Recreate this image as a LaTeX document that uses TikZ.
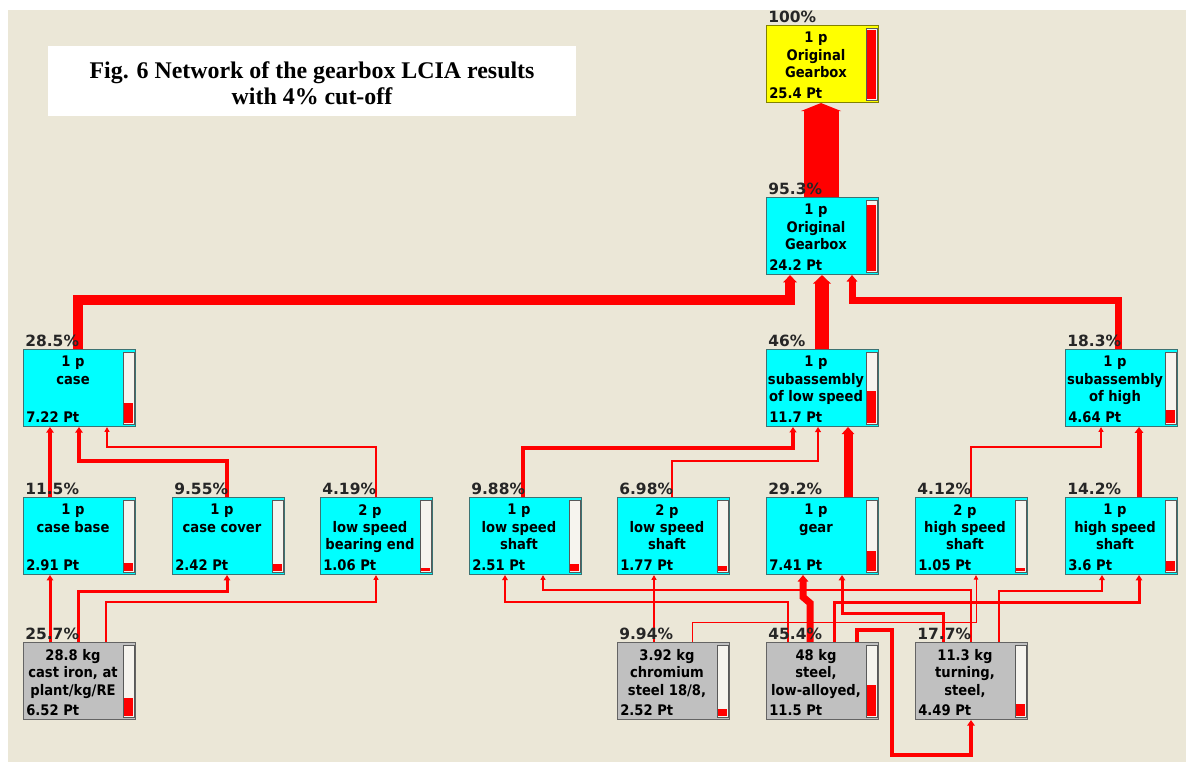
\documentclass[tikz,border=0pt]{standalone}
\usepackage{fontspec}
\usepackage{tikz}
\usetikzlibrary{arrows.meta}
\usetikzlibrary{calc}

\newfontfamily\boxfont{DejaVu Sans Condensed}[BoldFont={DejaVu Sans Condensed Bold}]
\newfontfamily\pctfont{DejaVu Sans}
\newfontfamily\titlefont{Liberation Serif}

\definecolor{bgbeige}{RGB}{235,231,215}
\definecolor{boxcyan}{RGB}{0,255,255}
\definecolor{boxgray}{RGB}{192,192,192}
\definecolor{boxyellow}{RGB}{255,255,0}
\definecolor{edgecyan}{RGB}{60,115,115}
\definecolor{edgegray}{RGB}{100,100,100}
\definecolor{edgeyellow}{RGB}{130,130,0}
\definecolor{barwhite}{RGB}{246,244,238}

\pgfdeclarelayer{bg}
\pgfdeclarelayer{edges}
\pgfsetlayers{bg,edges,main}

% name, x, y, fill, border, percent, text, score
\newcommand{\lcianode}[8]{%
  \node[lciabox, fill=#4, draw=#5] (#1) at (#2,#3) {};
  \draw[gray!70!black, fill=barwhite, line width=0.5pt] ($(#1.north east)+(-13,3)$) rectangle ($(#1.south east)+(-2,-3)$);
  \fill[red] ($(#1.south east)+(-12,-4)$) rectangle ($(#1.south east)+(-3,{-4-0.69*#6})$);
  \node[pctlabel] at ($(#1.north west)+(2,-3)$) {#6\%};
  \node[boxlines] at ($(#1.north west)+(50,7)$) {#7};
  \node[scorelabel] at ($(#1.south west)+(3,-5)$) {#8 Pt};
}

\begin{document}
\begin{tikzpicture}[x=0.02cm, y=-0.02cm,
  lciabox/.style={rectangle, anchor=north west, minimum width=2.24cm, minimum height=1.54cm, inner sep=0pt, line width=0.6pt},
  pctlabel/.style={anchor=base west, inner sep=0pt, text=black!85, font=\pctfont\bfseries\fontsize{8.8}{10}\selectfont},
  boxlines/.style={anchor=north, align=center, inner sep=0pt, font=\boxfont\bfseries\fontsize{8.3}{9.9}\selectfont},
  scorelabel/.style={anchor=base west, inner sep=0pt, font=\boxfont\bfseries\fontsize{8.3}{9.9}\selectfont},
  flow/.style={draw=red, line width=#1*0.2mm, -{Triangle[length=2.5pt 0.3, width=2pt 1]}}]
\useasboundingbox (0,0) rectangle (1186,762);
\begin{pgfonlayer}{bg}
\fill[bgbeige] (8,10) rectangle (1186,762);
\end{pgfonlayer}

% title
\fill[white] (48,46) rectangle (576,116);
\node[align=center, font=\titlefont\bfseries\fontsize{13.6}{15}\selectfont] (title) at (312,83) {Fig. 6 Network of the gearbox LCIA results\\with 4\% cut-off};

% processes
\lcianode{top}{766}{25}{boxyellow}{edgeyellow}{100}{1 p\\Original\\Gearbox}{25.4}
\lcianode{orig}{766}{197}{boxcyan}{edgecyan}{95.3}{1 p\\Original\\Gearbox}{24.2}
\lcianode{case}{23}{349}{boxcyan}{edgecyan}{28.5}{1 p\\case}{7.22}
\lcianode{sublow}{766}{349}{boxcyan}{edgecyan}{46}{1 p\\subassembly\\of low speed}{11.7}
\lcianode{subhigh}{1065}{349}{boxcyan}{edgecyan}{18.3}{1 p\\subassembly\\of high}{4.64}
\lcianode{casebase}{23}{497}{boxcyan}{edgecyan}{11.5}{1 p\\case base}{2.91}
\lcianode{casecover}{172}{497}{boxcyan}{edgecyan}{9.55}{1 p\\case cover}{2.42}
\lcianode{bearing}{320}{497}{boxcyan}{edgecyan}{4.19}{2 p\\low speed\\bearing end}{1.06}
\lcianode{lsshafta}{469}{497}{boxcyan}{edgecyan}{9.88}{1 p\\low speed\\shaft}{2.51}
\lcianode{lsshaftb}{617}{497}{boxcyan}{edgecyan}{6.98}{2 p\\low speed\\shaft}{1.77}
\lcianode{gear}{766}{497}{boxcyan}{edgecyan}{29.2}{1 p\\gear}{7.41}
\lcianode{hsshaftb}{915}{497}{boxcyan}{edgecyan}{4.12}{2 p\\high speed\\shaft}{1.05}
\lcianode{hsshafta}{1065}{497}{boxcyan}{edgecyan}{14.2}{1 p\\high speed\\shaft}{3.6}
\lcianode{castiron}{23}{642}{boxgray}{edgegray}{25.7}{28.8 kg\\cast iron, at\\plant/kg/RE}{6.52}
\lcianode{chromium}{617}{642}{boxgray}{edgegray}{9.94}{3.92 kg\\chromium\\steel 18/8,}{2.52}
\lcianode{steel}{766}{642}{boxgray}{edgegray}{45.4}{48 kg\\steel,\\low-alloyed,}{11.5}
\lcianode{turning}{915}{642}{boxgray}{edgegray}{17.7}{11.3 kg\\turning,\\steel,}{4.49}

\begin{pgfonlayer}{edges}
% flows into the gearbox
\draw[red, line width=0.7cm, -{Triangle[length=0.16cm, width=0.8cm]}] (821,0 |- orig.north) -- (821,0 |- top.south);
\draw[flow=10] (78,0 |- case.north) -- (78,300) -- (790,300) -- (790,0 |- orig.south);
\draw[flow=14] (822,0 |- sublow.north) -- (822,0 |- orig.south);
\draw[flow=7] (1118,0 |- subhigh.north) -- (1118,300) -- (852,300) -- (852,0 |- orig.south);

% flows into the assemblies
\draw[flow=4] (50,0 |- casebase.north) -- (50,0 |- case.south);
\draw[flow=4] (227,0 |- casecover.north) -- (227,461) -- (79,461) -- (79,0 |- case.south);
\draw[flow=1.5] (376,0 |- bearing.north) -- (376,447) -- (107,447) -- (107,0 |- case.south);
\draw[flow=3.5] (523,0 |- lsshafta.north) -- (523,448) -- (793,448) -- (793,0 |- sublow.south);
\draw[flow=2.5] (672,0 |- lsshaftb.north) -- (672,461) -- (818,461) -- (818,0 |- sublow.south);
\draw[flow=9] (848,0 |- gear.north) -- (848,0 |- sublow.south);
\draw[flow=1.5] (971,0 |- hsshaftb.north) -- (971,447) -- (1101,447) -- (1101,0 |- subhigh.south);
\draw[flow=5] (1139,0 |- hsshafta.north) -- (1139,0 |- subhigh.south);

% flows from the materials
\draw[flow=3] (50,0 |- castiron.north) -- (50,0 |- casebase.south);
\draw[flow=3] (78,0 |- castiron.north) -- (78,591) -- (227,591) -- (227,0 |- casecover.south);
\draw[flow=1.5] (106,0 |- castiron.north) -- (106,602) -- (376,602) -- (376,0 |- bearing.south);
\draw[flow=2] (788,0 |- steel.north) -- (788,602) -- (505,602) -- (505,0 |- lsshafta.south);
\draw[flow=1.5] (971,0 |- turning.north) -- (971,590) -- (543,590) -- (543,0 |- lsshafta.south);
\draw[flow=1.5] (654,0 |- chromium.north) -- (654,0 |- lsshaftb.south);
\draw[flow=1] (692,0 |- chromium.north) -- (692,622) -- (976,622) -- (976,0 |- hsshaftb.south);
\draw[flow=7] (810,0 |- steel.north) -- (810,603) -- (803,597) -- (803,0 |- gear.south);
\draw[flow=3] (943,0 |- turning.north) -- (943,613) -- (842,613) -- (842,0 |- gear.south);
\draw[flow=3] (834,0 |- steel.north) -- (834,602) -- (1139,602) -- (1139,0 |- hsshafta.south);
\draw[flow=2] (999,0 |- turning.north) -- (999,591) -- (1102,591) -- (1102,0 |- hsshafta.south);
\draw[flow=4] (857,0 |- steel.north) -- (857,630) -- (892,630) -- (892,755) -- (971,755) -- (971,0 |- turning.south);
\end{pgfonlayer}
\end{tikzpicture}
\end{document}
